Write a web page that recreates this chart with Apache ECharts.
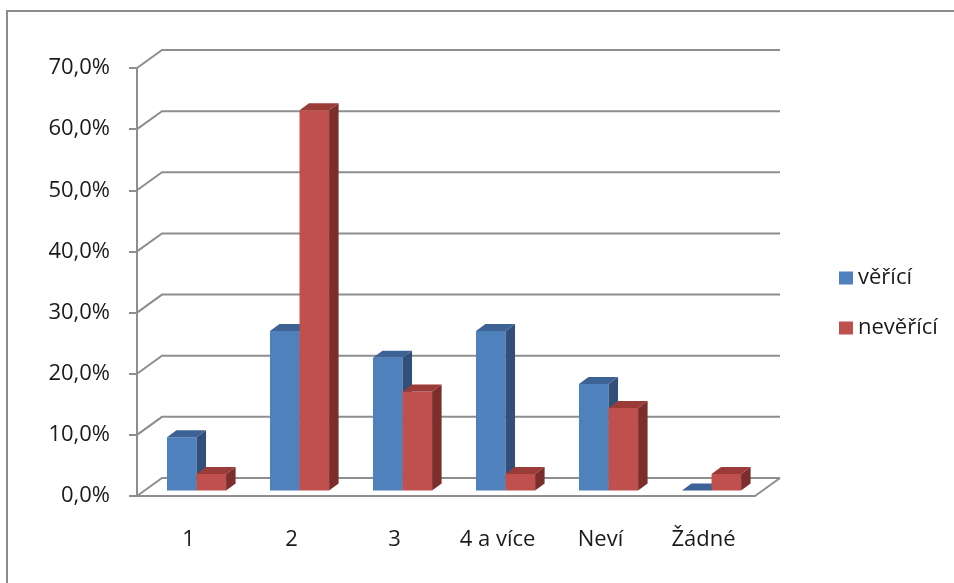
<!DOCTYPE html>
<html>
<head>
<meta charset="utf-8">
<script src="https://cdn.jsdelivr.net/npm/echarts@6/dist/echarts.min.js"></script>
<style>
  html, body { margin: 0; padding: 0; background: #fff; }
  #chart { width: 954px; height: 583px; }
</style>
</head>
<body>
<div id="chart"></div>
<script>
// Počet dětí – podíl odpovědí (v %)
const categories = ['1', '2', '3', '4 a více', 'Neví', 'Žádné'];
const seriesNames = ['věřící', 'nevěřící'];
const believers = [8.7, 26.1, 21.7, 26.1, 17.4, 0.0];
const nonBelievers = [2.7, 62.2, 16.2, 2.7, 13.5, 2.7];
const yTicks = [0, 10, 20, 30, 40, 50, 60, 70];

const FONT = '"Open Sans", sans-serif';
const GRID_COLOR = '#8e8e8e';

// perspective of the back wall and of the bar blocks (pixels)
const WALL_DX = 25, WALL_DY = -18;
const BAR_DX = 9.5, BAR_DY = -7;
const FRONT_SHIFT_Y = -5.5;

const palette = {
  blue: { front: '#4f81bd', top: '#3c6296', side: '#314f78' },
  red:  { front: '#c0504d', top: '#9a3b38', side: '#7b2e2c' }
};

function wallRenderer(params, api) {
  const cs = params.coordSys;
  const y = api.coord([0, api.value(1)])[1];
  const left = cs.x, right = cs.x + cs.width;
  const style = { stroke: GRID_COLOR, lineWidth: 2, fill: null };
  const children = [{
    type: 'polyline',
    shape: { points: [[left, y], [left + WALL_DX, y + WALL_DY], [right + WALL_DX, y + WALL_DY]] },
    style: style
  }];
  if (api.value(1) === yTicks[0]) {
    children.push({
      type: 'line',
      shape: { x1: right, y1: y, x2: right + WALL_DX, y2: y + WALL_DY },
      style: style
    });
  }
  return { type: 'group', children: children };
}

function barRenderer(slot, colors) {
  return function (params, api) {
    const idx = api.value(0);
    const base = api.coord([idx, 0]);
    const top = api.coord([idx, api.value(1)]);
    const band = api.size([1, 0])[0];
    const w = band * 0.287;
    const x0 = base[0] - w + band * 0.078 + slot * w;
    const x1 = x0 + w;
    const yb = base[1] + FRONT_SHIFT_Y;
    const yt = top[1] + FRONT_SHIFT_Y;
    return {
      type: 'group',
      children: [
        {
          type: 'polygon',
          shape: { points: [[x0, yt], [x1, yt], [x1, yb], [x0, yb]] },
          style: { fill: colors.front }
        },
        {
          type: 'polygon',
          shape: { points: [[x1, yt], [x1 + BAR_DX, yt + BAR_DY], [x1 + BAR_DX, yb + BAR_DY], [x1, yb]] },
          style: { fill: colors.side }
        },
        {
          type: 'polygon',
          shape: { points: [[x0, yt], [x0 + BAR_DX, yt + BAR_DY], [x1 + BAR_DX, yt + BAR_DY], [x1, yt]] },
          style: { fill: colors.top }
        }
      ]
    };
  };
}

const chart = echarts.init(document.getElementById('chart'), null, { renderer: 'canvas' });

chart.setOption({
  animation: false,
  backgroundColor: '#ffffff',
  textStyle: { fontFamily: FONT },
  graphic: [{
    type: 'rect',
    shape: { x: 7, y: 11, width: 1000, height: 700 },
    style: { fill: null, stroke: '#8c8c8c', lineWidth: 2 },
    silent: true
  }],
  grid: { left: 137, right: 199, top: 68, bottom: 87 },
  legend: {
    orient: 'vertical',
    left: 834,
    top: 262,
    itemWidth: 14,
    itemHeight: 13,
    itemGap: 28,
    icon: 'rect',
    data: seriesNames,
    textStyle: { fontFamily: FONT, fontSize: 22, color: '#1a1a1a', padding: [0, 0, 0, 0] }
  },
  xAxis: {
    type: 'category',
    data: categories,
    boundaryGap: true,
    axisLine: { lineStyle: { color: GRID_COLOR, width: 2 } },
    axisTick: { length: 9, lineStyle: { color: GRID_COLOR, width: 2 } },
    axisLabel: { margin: 33, fontFamily: FONT, fontSize: 22, color: '#1a1a1a' },
    splitLine: { show: false }
  },
  yAxis: {
    type: 'value',
    min: yTicks[0],
    max: yTicks[yTicks.length - 1],
    interval: yTicks[1] - yTicks[0],
    axisLine: { show: true, lineStyle: { color: GRID_COLOR, width: 2 } },
    axisTick: { show: true, length: 8, lineStyle: { color: GRID_COLOR, width: 2 } },
    axisLabel: {
      margin: 27,
      fontFamily: FONT,
      fontSize: 22,
      color: '#1a1a1a',
      formatter: v => v.toFixed(1).replace('.', ',') + '%'
    },
    splitLine: { show: false }
  },
  series: [
    {
      type: 'custom',
      name: 'wall',
      silent: true,
      clip: false,
      z: 1,
      renderItem: wallRenderer,
      encode: { x: 0, y: 1 },
      data: yTicks.map(v => [0, v])
    },
    {
      type: 'custom',
      name: seriesNames[0],
      clip: false,
      z: 3,
      itemStyle: { color: palette.blue.front },
      renderItem: barRenderer(0, palette.blue),
      encode: { x: 0, y: 1 },
      data: believers.map((v, i) => [i, v])
    },
    {
      type: 'custom',
      name: seriesNames[1],
      clip: false,
      z: 4,
      itemStyle: { color: palette.red.front },
      renderItem: barRenderer(1, palette.red),
      encode: { x: 0, y: 1 },
      data: nonBelievers.map((v, i) => [i, v])
    }
  ]
});
</script>
</body>
</html>
